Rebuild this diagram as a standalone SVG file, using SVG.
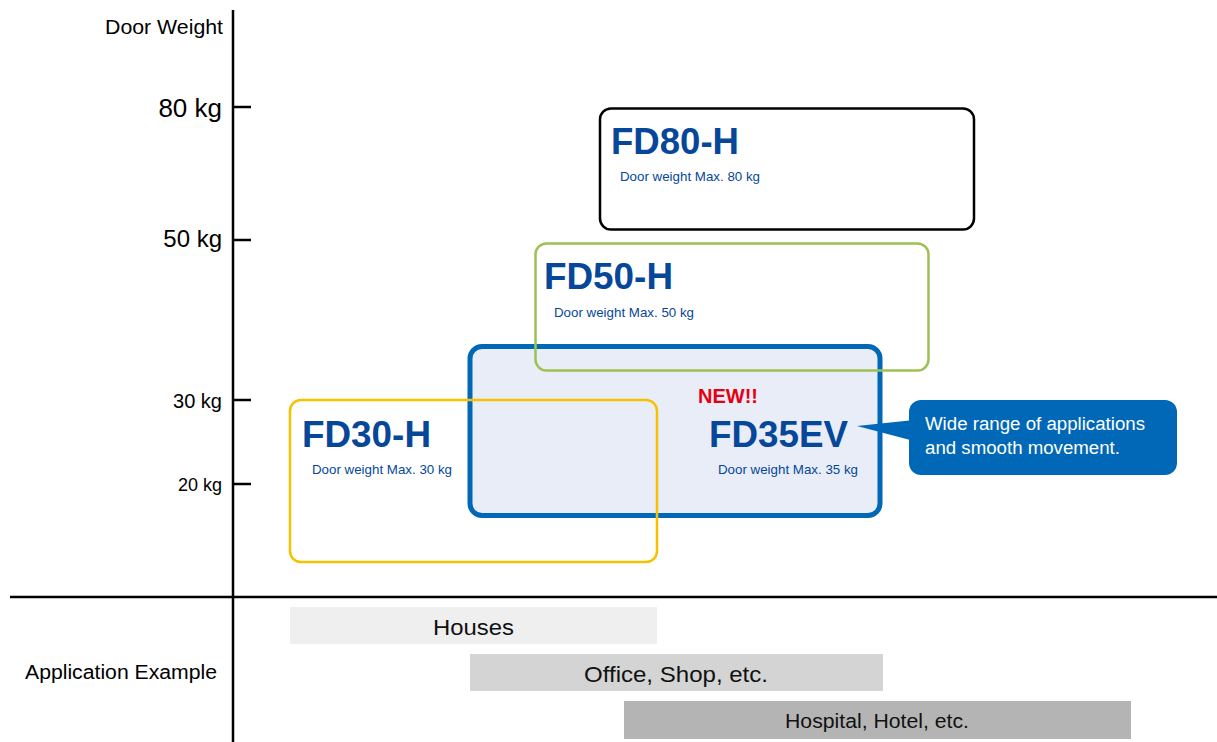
<svg xmlns="http://www.w3.org/2000/svg" width="1217" height="742" viewBox="0 0 1217 742">
<style>
text{font-family:"Liberation Sans",Arial,Helvetica,sans-serif}
.ax{stroke:#000;stroke-width:2.5;fill:none}
.lbl{fill:#000;text-anchor:end}
.title{fill:#06479A;font-weight:bold;font-size:37px}
.sub{fill:#06479A;font-size:13.3px}
.bar{fill:#111;text-anchor:middle}
</style>
<rect width="1217" height="742" fill="#fff"/>
<g id="axes">
<line class="ax" x1="233" y1="10" x2="233" y2="742"/>
<line class="ax" x1="10" y1="597" x2="1217" y2="597"/>
<line class="ax" x1="233" y1="107" x2="251" y2="107"/>
<line class="ax" x1="233" y1="240" x2="251" y2="240"/>
<line class="ax" x1="233" y1="400" x2="251" y2="400"/>
<line class="ax" x1="233" y1="484" x2="251" y2="484"/>
<text class="lbl" x="223" y="34" font-size="20" textLength="118" lengthAdjust="spacingAndGlyphs">Door Weight</text>
<text class="lbl" x="222" y="117" font-size="26">80 kg</text>
<text class="lbl" x="222" y="247" font-size="24">50 kg</text>
<text class="lbl" x="222" y="408" font-size="20">30 kg</text>
<text class="lbl" x="222" y="491" font-size="18">20 kg</text>
<text x="25" y="679" font-size="20" fill="#000" textLength="192" lengthAdjust="spacingAndGlyphs">Application Example</text>
</g>
<g id="fd80h">
<rect x="600" y="108.5" width="374" height="121" rx="11" fill="none" stroke="#000" stroke-width="2.5"/>
<text class="title" x="611" y="154" textLength="128" lengthAdjust="spacingAndGlyphs" font-size="40">FD80-H</text>
<text class="sub" x="620" y="181" textLength="140" lengthAdjust="spacingAndGlyphs">Door weight Max. 80 kg</text>
</g>
<g id="fd35ev">
<rect x="470" y="346.5" width="410" height="169" rx="12" fill="#E8EDF7" stroke="#0068B7" stroke-width="5"/>
<text x="698" y="403" font-size="20" font-weight="bold" fill="#E60012">NEW!!</text>
<text class="title" x="709" y="447" textLength="139" lengthAdjust="spacingAndGlyphs" font-size="39">FD35EV</text>
<text class="sub" x="718" y="474" textLength="140" lengthAdjust="spacingAndGlyphs">Door weight Max. 35 kg</text>
</g>
<g id="fd50h">
<rect x="535.5" y="243.5" width="393" height="127" rx="11" fill="none" stroke="#9DC153" stroke-width="2.5"/>
<text class="title" x="544" y="289" textLength="129" lengthAdjust="spacingAndGlyphs" font-size="40">FD50-H</text>
<text class="sub" x="554" y="317" textLength="140" lengthAdjust="spacingAndGlyphs">Door weight Max. 50 kg</text>
</g>
<g id="fd30h">
<rect x="290" y="400" width="367" height="162" rx="11" fill="none" stroke="#F8C100" stroke-width="2.5"/>
<text class="title" x="302" y="447" textLength="129" lengthAdjust="spacingAndGlyphs" font-size="40">FD30-H</text>
<text class="sub" x="312" y="474" textLength="140" lengthAdjust="spacingAndGlyphs">Door weight Max. 30 kg</text>
</g>
<g id="callout">
<polygon points="857,426 914,420 914,441" fill="#0068B7"/>
<rect x="909" y="400" width="268" height="75" rx="12" fill="#0068B7"/>
<text x="925" y="430" font-size="18" fill="#fff" textLength="220" lengthAdjust="spacingAndGlyphs">Wide range of applications</text>
<text x="925" y="454" font-size="18" fill="#fff" textLength="195" lengthAdjust="spacingAndGlyphs">and smooth movement.</text>
</g>
<g id="houses">
<rect x="290" y="607" width="367" height="37" fill="#EFEFEF"/>
<text class="bar" x="473.5" y="635" font-size="22" textLength="81" lengthAdjust="spacingAndGlyphs">Houses</text>
</g>
<g id="office">
<rect x="470" y="654" width="413" height="37" fill="#D4D4D4"/>
<text class="bar" x="676" y="682" font-size="22" textLength="184" lengthAdjust="spacingAndGlyphs">Office, Shop, etc.</text>
</g>
<g id="hospital">
<rect x="624" y="701" width="507" height="38" fill="#B4B4B4"/>
<text class="bar" x="877" y="728" font-size="20" textLength="184" lengthAdjust="spacingAndGlyphs">Hospital, Hotel, etc.</text>
</g>
<g id="connectors"></g>
</svg>
